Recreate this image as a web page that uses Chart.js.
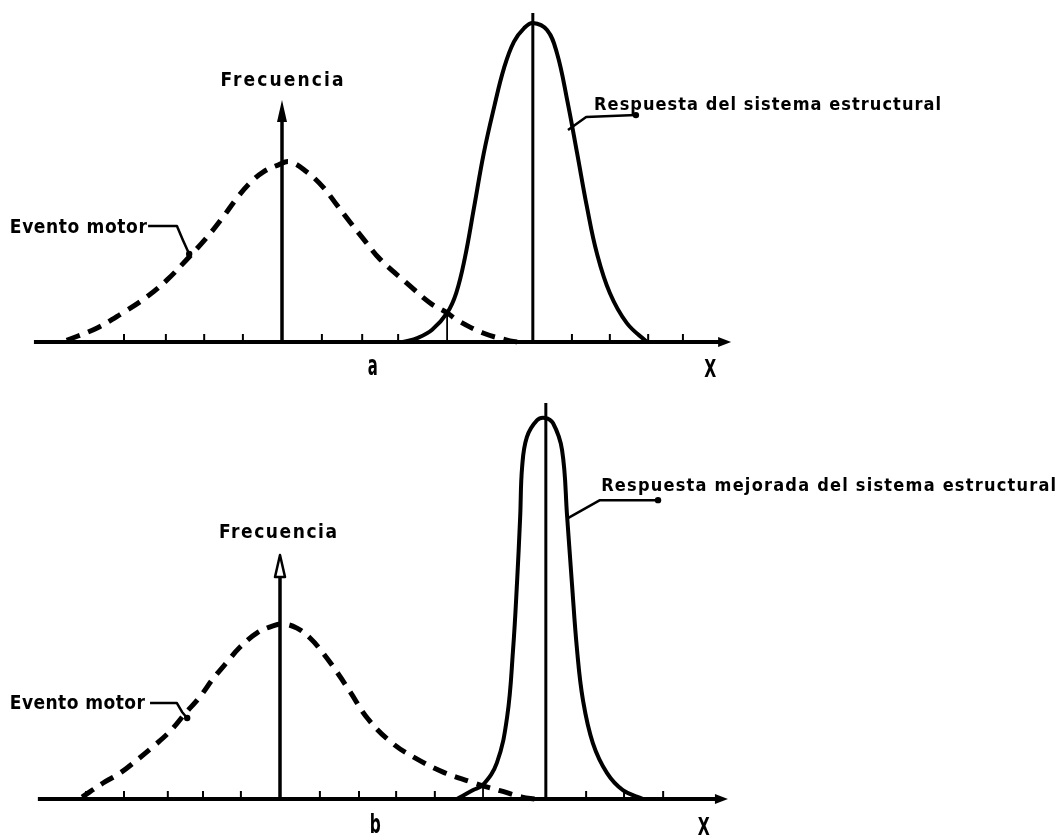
<!DOCTYPE html>
<html>
<head>
<meta charset="utf-8">
<script src="https://cdn.jsdelivr.net/npm/chart.js@4.4.1/dist/chart.umd.min.js"></script>
<style>
html, body { margin: 0; padding: 0; background: #fff; }
#wrap { position: relative; width: 1058px; height: 837px; overflow: hidden; background: #fff; }
canvas { position: absolute; left: 0; }
#c1 { top: 0; }
#c2 { top: 400px; }
</style>
</head>
<body>
<div id="wrap">
  <canvas id="c1" width="1058" height="400"></canvas>
  <canvas id="c2" width="1058" height="437"></canvas>
</div>
<script>
// ---------------- DATA (x in tick units, y in frequency units) ----------------
// Panel a
const A_MOTOR_X = [-5.45, -4.68, -4.03, -3.42, -2.91, -2.41, -1.90, -1.49, -1.14, -0.81, -0.48, -0.10, 0.20, 0.63, 1.04, 1.39, 1.72, 2.10, 2.48, 3.16, 3.75, 4.18, 4.43, 5.09, 5.70, 5.95];
const A_MOTOR_Y = [0.05, 0.44, 0.91, 1.41, 1.94, 2.58, 3.27, 3.91, 4.50, 4.97, 5.31, 5.53, 5.63, 5.31, 4.84, 4.28, 3.75, 3.16, 2.59, 1.84, 1.22, 0.91, 0.69, 0.28, 0.06, 0.00];
const A_RESP_X = [3.06, 3.44, 3.80, 4.18, 4.41, 4.63, 4.86, 5.11, 5.37, 5.62, 5.87, 6.13, 6.35, 6.71, 6.96, 7.22, 7.47, 7.72, 7.97, 8.30, 8.73, 9.24];
const A_RESP_Y = [0.00, 0.13, 0.38, 0.91, 1.53, 2.63, 4.19, 5.91, 7.34, 8.56, 9.38, 9.81, 9.97, 9.75, 9.03, 7.56, 5.91, 4.22, 2.78, 1.53, 0.59, 0.00];
const A_TICKS = [-4.00, -2.94, -1.97, -0.99, 1.01, 2.03, 2.94, 7.34, 8.30, 9.27, 10.15];
const A_MEAN = [6.35, 10.28];      // x of response mean, top of its line
const A_CROSS = [4.18, 0.91];      // x, y of curve crossing
const A_FREQ_TOP = 7.56;
const A_AXIS = [-6.28, 11.37];
const A_TEXTS = ['Frecuencia', 'Evento motor', 'Respuesta del sistema estructural', 'a', 'X'];

// Panel b
const B_MOTOR_X = [-5.01, -4.48, -4.05, -3.62, -3.22, -2.78, -2.41, -2.03, -1.70, -1.34, -1.01, -0.58, -0.18, 0.08, 0.43, 0.76, 1.09, 1.44, 1.77, 2.23, 2.84, 3.44, 4.13, 4.84, 5.14, 5.57, 6.13, 6.46];
const B_MOTOR_Y = [0.06, 0.50, 0.81, 1.22, 1.63, 2.12, 2.66, 3.19, 3.75, 4.28, 4.75, 5.19, 5.41, 5.47, 5.34, 5.03, 4.56, 3.97, 3.36, 2.50, 1.75, 1.27, 0.84, 0.53, 0.41, 0.26, 0.06, 0.00];
const B_RESP_X = [4.48, 4.89, 5.14, 5.49, 5.75, 5.90, 6.00, 6.08, 6.13, 6.25, 6.51, 6.71, 6.91, 7.14, 7.27, 7.39, 7.52, 7.67, 7.92, 8.28, 8.68, 9.19];
const B_RESP_Y = [0.00, 0.28, 0.44, 1.13, 2.56, 4.66, 6.75, 8.81, 10.38, 11.31, 11.84, 11.91, 11.75, 10.91, 8.81, 6.75, 4.66, 3.09, 1.75, 0.81, 0.28, 0.00];
const B_TICKS = [-4.91, -3.95, -2.84, -1.95, -0.99, 1.01, 2.00, 2.94, 3.92, 7.75, 8.71, 9.70];
const B_MEAN = [6.73, 12.375];
const B_CROSS = [5.14, 0.44];
const B_FREQ_TOP = 7.625;
const B_AXIS = [-6.13, 11.34];
const B_TEXTS = ['Frecuencia', 'Evento motor', 'Respuesta mejorada del sistema estructural', 'b', 'X'];

// ---------------- helpers ----------------
const FONT = "'Liberation Sans Narrow','DejaVu Sans Condensed','DejaVu Sans',sans-serif";
const pts = (xs, ys) => xs.map((x, i) => ({ x: x, y: ys[i] }));

function fitText(ctx, text, x, y, width, size, align) {
  ctx.font = 'bold ' + size + 'px ' + FONT;
  if ('letterSpacing' in ctx) ctx.letterSpacing = '0px';
  const w0 = ctx.measureText(text).width;
  let left = align === 'center' ? x - width / 2 : x;
  ctx.textAlign = 'left';
  ctx.textBaseline = 'alphabetic';
  const n = text.length;
  if (n > 1 && w0 < width && 'letterSpacing' in ctx) {
    ctx.letterSpacing = ((width - w0) / (n - 1)) + 'px';
    ctx.fillText(text, left, y);
    ctx.letterSpacing = '0px';
  } else {
    ctx.save();
    ctx.translate(left, y);
    ctx.scale(width / w0, 1);
    ctx.fillText(text, 0, 0);
    ctx.restore();
  }
}

const sketchPlugin = {
  id: 'sketch',
  afterDatasetsDraw(chart, args, o) {
    const ctx = chart.ctx, xs = chart.scales.x, ys = chart.scales.y;
    const X = v => xs.getPixelForValue(v), Y = v => ys.getPixelForValue(v);
    const seg = (x1, y1, x2, y2) => { ctx.beginPath(); ctx.moveTo(x1, y1); ctx.lineTo(x2, y2); ctx.stroke(); };
    ctx.save();
    ctx.strokeStyle = '#000'; ctx.fillStyle = '#000';
    ctx.lineCap = 'butt'; ctx.lineJoin = 'round';
    const y0 = Y(0);
    // horizontal axis with arrow
    const xe = X(o.axis[1]);
    ctx.lineWidth = 4;
    seg(X(o.axis[0]), y0, xe - 8, y0);
    ctx.beginPath(); ctx.moveTo(xe, y0); ctx.lineTo(xe - 13, y0 - 5); ctx.lineTo(xe - 13, y0 + 5); ctx.closePath(); ctx.fill();
    // ticks
    ctx.lineWidth = 2;
    o.ticks.forEach(t => seg(X(t), y0, X(t), y0 - 8));
    // frequency axis with arrow
    const xf = X(0), yt = Y(o.freqTop);
    ctx.lineWidth = 3.5;
    seg(xf, y0, xf, yt + 16);
    ctx.beginPath(); ctx.moveTo(xf, yt); ctx.lineTo(xf - 5, yt + 22); ctx.lineTo(xf + 5, yt + 22); ctx.closePath();
    if (o.hollowArrow) { ctx.lineWidth = 2.5; ctx.fillStyle = '#fff'; ctx.fill(); ctx.stroke(); ctx.fillStyle = '#000'; }
    else ctx.fill();
    // mean line of response
    ctx.lineWidth = 3;
    seg(X(o.mean[0]), y0, X(o.mean[0]), Y(o.mean[1]));
    // crossing marker
    ctx.lineWidth = 1.8;
    seg(X(o.cross[0]), y0, X(o.cross[0]), Y(o.cross[1]));
    // leaders
    ctx.lineWidth = 2.5;
    o.leaders.forEach(p => {
      ctx.beginPath();
      p.forEach((q, i) => i ? ctx.lineTo(X(q[0]), Y(q[1])) : ctx.moveTo(X(q[0]), Y(q[1])));
      ctx.stroke();
      const e = p[p.length - 1];
      ctx.beginPath(); ctx.arc(X(e[0]), Y(e[1]), 3.2, 0, Math.PI * 2); ctx.fill();
    });
    // texts
    o.labels.forEach(l => fitText(ctx, l.text, X(l.x), Y(l.y), l.w, l.size, l.align));
    ctx.restore();
  }
};

function makeChart(id, motor, resp, yr, xr, sk) {
  return new Chart(document.getElementById(id), {
    type: 'line',
    data: {
      datasets: [
        { label: 'Evento motor', data: motor, borderColor: '#000', borderWidth: 5, borderDash: [14, 9],
          borderCapStyle: 'butt', pointRadius: 0, tension: 0.4, fill: false },
        { label: 'Respuesta', data: resp, borderColor: '#000', borderWidth: 4,
          pointRadius: 0, tension: 0.4, fill: false }
      ]
    },
    options: {
      responsive: false, animation: false, events: [],
      layout: { padding: 0 },
      plugins: { legend: { display: false }, tooltip: { enabled: false }, sketch: sk },
      scales: {
        x: { type: 'linear', display: false, min: xr[0], max: xr[1] },
        y: { type: 'linear', display: false, min: yr[0], max: yr[1] }
      }
    },
    plugins: [sketchPlugin]
  });
}

makeChart('c1', pts(A_MOTOR_X, A_MOTOR_Y), pts(A_RESP_X, A_RESP_Y),
  [-1.8125, 10.6875], [-282 / 39.5, (1058 - 282) / 39.5], {
    axis: A_AXIS, ticks: A_TICKS, freqTop: A_FREQ_TOP, mean: A_MEAN, cross: A_CROSS, hollowArrow: false,
    leaders: [
      [[7.24, 6.625], [7.70, 7.03], [8.96, 7.09]],
      [[-3.39, 3.625], [-2.66, 3.625], [-2.51, 3.19], [-2.35, 2.75]]
    ],
    labels: [
      { text: A_TEXTS[0], x: 0, y: 8.0, w: 123, size: 19, align: 'center' },
      { text: A_TEXTS[1], x: -6.89, y: 3.41, w: 137, size: 19, align: 'left' },
      { text: A_TEXTS[2], x: 7.90, y: 7.25, w: 347, size: 18, align: 'left' },
      { text: A_TEXTS[3], x: 2.30, y: -1.03, w: 10, size: 28, align: 'center' },
      { text: A_TEXTS[4], x: 10.84, y: -1.09, w: 12, size: 24, align: 'center' }
    ]
  });

makeChart('c2', pts(B_MOTOR_X, B_MOTOR_Y), pts(B_RESP_X, B_RESP_Y),
  [-1.1875, 12.47], [-280 / 39.5, (1058 - 280) / 39.5], {
    axis: B_AXIS, ticks: B_TICKS, freqTop: B_FREQ_TOP, mean: B_MEAN, cross: B_CROSS, hollowArrow: true,
    leaders: [
      [[7.29, 8.78], [7.65, 9.03], [8.10, 9.34], [9.57, 9.34]],
      [[-3.29, 3.0], [-2.61, 3.0], [-2.48, 2.72], [-2.35, 2.53]]
    ],
    labels: [
      { text: B_TEXTS[0], x: -0.05, y: 8.16, w: 118, size: 19, align: 'center' },
      { text: B_TEXTS[1], x: -6.84, y: 2.81, w: 135, size: 19, align: 'left' },
      { text: B_TEXTS[2], x: 8.13, y: 9.625, w: 455, size: 18, align: 'left' },
      { text: B_TEXTS[3], x: 2.41, y: -1.06, w: 11, size: 26, align: 'center' },
      { text: B_TEXTS[4], x: 10.73, y: -1.125, w: 12, size: 24, align: 'center' }
    ]
  });
</script>
</body>
</html>
